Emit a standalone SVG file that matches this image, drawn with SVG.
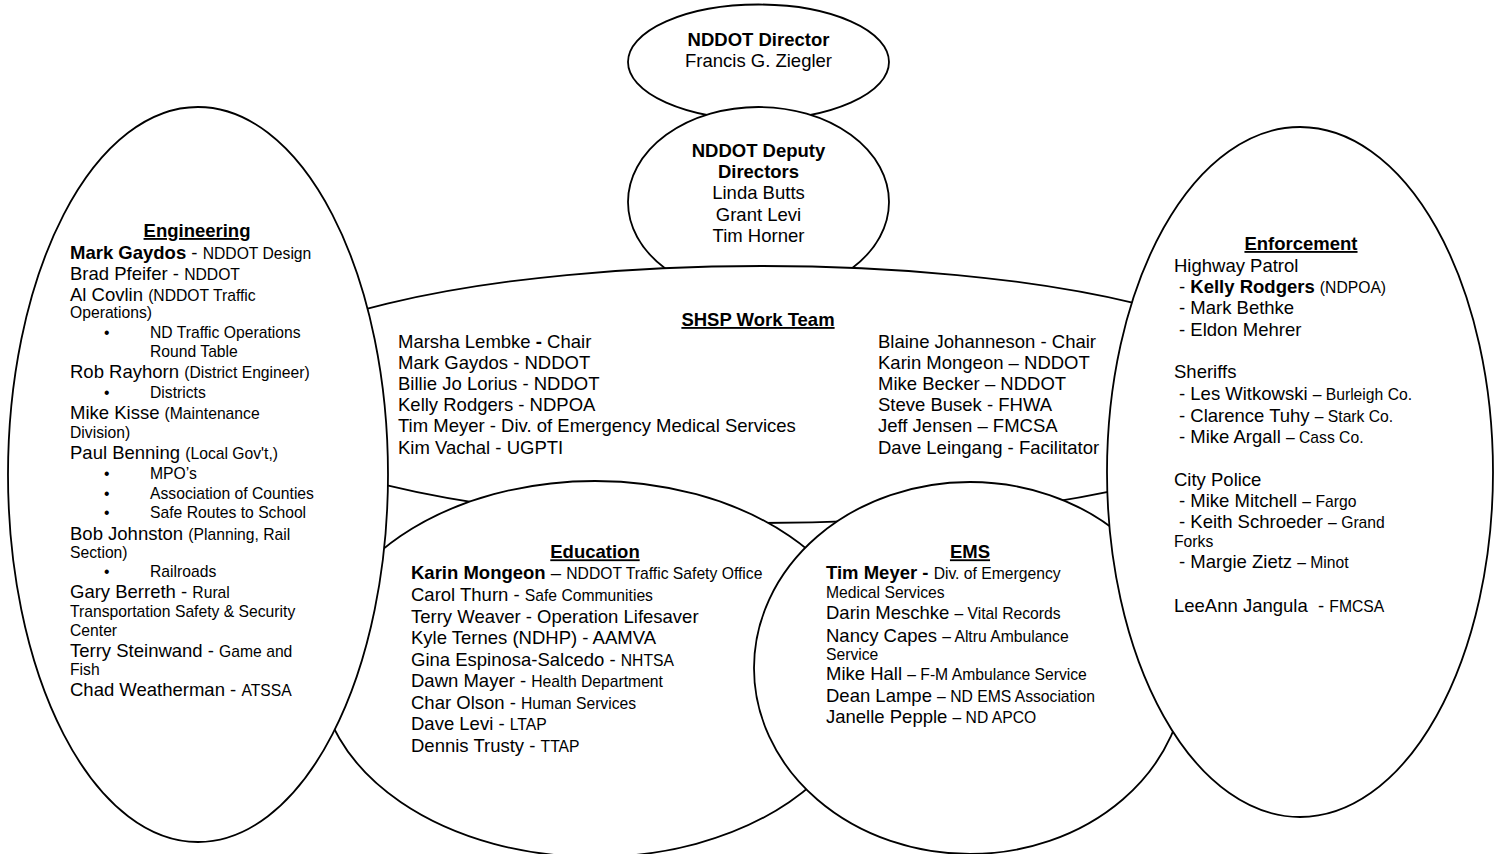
<svg xmlns="http://www.w3.org/2000/svg" width="1499" height="854" viewBox="0 0 1499 854">
<style>
.shape{fill:#fff;stroke:#000;stroke-width:1.8}
text{font-family:"Liberation Sans",Arial,sans-serif;fill:#000;font-size:18.5px}
.s{font-size:15.7px}
.b{font-weight:bold}
.c{text-anchor:middle}
.h{font-weight:bold;text-decoration:underline;text-anchor:middle}
</style>
<rect width="1499" height="854" fill="#fff"/>
<g id="director">
<ellipse class="shape" cx="758.5" cy="62" rx="130.5" ry="57.5"/>
<text class="c b" x="758.5" y="46">NDDOT Director</text>
<text class="c" x="758.5" y="67">Francis G. Ziegler</text>
</g>
<g id="deputy-directors">
<ellipse class="shape" cx="758.5" cy="202" rx="130.5" ry="95"/>
<text class="c b" x="758.5" y="157">NDDOT Deputy</text>
<text class="c b" x="758.5" y="178">Directors</text>
<text class="c" x="758.5" y="199">Linda Butts</text>
<text class="c" x="758.5" y="221">Grant Levi</text>
<text class="c" x="758.5" y="242">Tim Horner</text>
</g>
<g id="shsp-work-team">
<ellipse class="shape" cx="762" cy="394.5" rx="530" ry="128.5"/>
<text class="h" x="758" y="326">SHSP Work Team</text>
<text x="398" y="347.5">Marsha Lembke <tspan class="b">-</tspan> Chair</text>
<text x="398" y="368.7">Mark Gaydos - NDDOT</text>
<text x="398" y="389.9">Billie Jo Lorius - NDDOT</text>
<text x="398" y="411.1">Kelly Rodgers - NDPOA</text>
<text x="398" y="432.3">Tim Meyer - Div. of Emergency Medical Services</text>
<text x="398" y="453.5">Kim Vachal - UGPTI</text>
<text x="878" y="347.5">Blaine Johanneson - Chair</text>
<text x="878" y="368.7">Karin Mongeon – NDDOT</text>
<text x="878" y="389.9">Mike Becker – NDDOT</text>
<text x="878" y="411.1">Steve Busek - FHWA</text>
<text x="878" y="432.3">Jeff Jensen – FMCSA</text>
<text x="878" y="453.5">Dave Leingang - Facilitator</text>
</g>
<g id="education">
<ellipse class="shape" cx="595" cy="669" rx="275" ry="188"/>
<text class="h" x="595" y="558.3">Education</text>
<text x="411" y="579"><tspan class="b">Karin Mongeon</tspan> – <tspan class="s">NDDOT Traffic Safety Office</tspan></text>
<text x="411" y="601">Carol Thurn - <tspan class="s">Safe Communities</tspan></text>
<text x="411" y="622.5">Terry Weaver - Operation Lifesaver</text>
<text x="411" y="644">Kyle Ternes (NDHP) - AAMVA</text>
<text x="411" y="665.5">Gina Espinosa-Salcedo - <tspan class="s">NHTSA</tspan></text>
<text x="411" y="687">Dawn Mayer - <tspan class="s">Health Department</tspan></text>
<text x="411" y="708.5">Char Olson - <tspan class="s">Human Services</tspan></text>
<text x="411" y="730">Dave Levi - <tspan class="s">LTAP</tspan></text>
<text x="411" y="751.5">Dennis Trusty - <tspan class="s">TTAP</tspan></text>
</g>
<g id="ems">
<ellipse class="shape" cx="970" cy="668" rx="216" ry="186"/>
<text class="h" x="970" y="558.3">EMS</text>
<text x="826" y="579"><tspan class="b">Tim Meyer -</tspan> <tspan class="s">Div. of Emergency</tspan></text>
<text class="s" x="826" y="598.3">Medical Services</text>
<text x="826" y="619.3">Darin Meschke <tspan class="s">– Vital Records</tspan></text>
<text x="826" y="641.7">Nancy Capes <tspan class="s">– Altru Ambulance</tspan></text>
<text class="s" x="826" y="660">Service</text>
<text x="826" y="680">Mike Hall <tspan class="s">– F-M Ambulance Service</tspan></text>
<text x="826" y="701.7">Dean Lampe <tspan class="s">– ND EMS Association</tspan></text>
<text x="826" y="722.7">Janelle Pepple <tspan class="s">– ND APCO</tspan></text>
</g>
<g id="engineering">
<ellipse class="shape" cx="198" cy="474.5" rx="190" ry="367.5"/>
<text class="h" x="197" y="237">Engineering</text>
<text x="70" y="259"><tspan class="b">Mark Gaydos</tspan> - <tspan class="s">NDDOT Design</tspan></text>
<text x="70" y="280">Brad Pfeifer - <tspan class="s">NDDOT</tspan></text>
<text x="70" y="300.7">Al Covlin <tspan class="s">(NDDOT Traffic</tspan></text>
<text class="s" x="70" y="318.3">Operations)</text>
<text class="s" x="104" y="338.3">•</text>
<text class="s" x="150" y="338.3">ND Traffic Operations</text>
<text class="s" x="150" y="356.7">Round Table</text>
<text x="70" y="378.3">Rob Rayhorn <tspan class="s">(District Engineer)</tspan></text>
<text class="s" x="104" y="398.3">•</text>
<text class="s" x="150" y="398.3">Districts</text>
<text x="70" y="419.3">Mike Kisse <tspan class="s">(Maintenance</tspan></text>
<text class="s" x="70" y="438.3">Division)</text>
<text x="70" y="459.3">Paul Benning <tspan class="s">(Local Gov't,)</tspan></text>
<text class="s" x="104" y="479.3">•</text>
<text class="s" x="150" y="479.3">MPO’s</text>
<text class="s" x="104" y="499.3">•</text>
<text class="s" x="150" y="499.3">Association of Counties</text>
<text class="s" x="104" y="518.3">•</text>
<text class="s" x="150" y="518.3">Safe Routes to School</text>
<text x="70" y="540">Bob Johnston <tspan class="s">(Planning, Rail</tspan></text>
<text class="s" x="70" y="558.3">Section)</text>
<text class="s" x="104" y="577.3">•</text>
<text class="s" x="150" y="577.3">Railroads</text>
<text x="70" y="598.3">Gary Berreth - <tspan class="s">Rural</tspan></text>
<text class="s" x="70" y="617.3">Transportation Safety &amp; Security</text>
<text class="s" x="70" y="636">Center</text>
<text x="70" y="656.7">Terry Steinwand - <tspan class="s">Game and</tspan></text>
<text class="s" x="70" y="675">Fish</text>
<text x="70" y="696">Chad Weatherman - <tspan class="s">ATSSA</tspan></text>
</g>
<g id="enforcement">
<ellipse class="shape" cx="1300" cy="472" rx="193" ry="345"/>
<text class="h" x="1301" y="250">Enforcement</text>
<text x="1174" y="271.7">Highway Patrol</text>
<text x="1179" y="292.7">- <tspan class="b">Kelly Rodgers</tspan> <tspan class="s">(NDPOA)</tspan></text>
<text x="1179" y="314">- Mark Bethke</text>
<text x="1179" y="336">- Eldon Mehrer</text>
<text x="1174" y="378.3">Sheriffs</text>
<text x="1179" y="400">- Les Witkowski <tspan class="s">– Burleigh Co.</tspan></text>
<text x="1179" y="421.7">- Clarence Tuhy <tspan class="s">– Stark Co.</tspan></text>
<text x="1179" y="443.3">- Mike Argall <tspan class="s">– Cass Co.</tspan></text>
<text x="1174" y="486">City Police</text>
<text x="1179" y="507.3">- Mike Mitchell <tspan class="s">– Fargo</tspan></text>
<text x="1179" y="528.3">- Keith Schroeder <tspan class="s">– Grand</tspan></text>
<text class="s" x="1174" y="547.3">Forks</text>
<text x="1179" y="568.3">- Margie Zietz <tspan class="s">– Minot</tspan></text>
<text x="1174" y="611.7" xml:space="preserve">LeeAnn Jangula  - <tspan class="s">FMCSA</tspan></text>
</g>
<g id="connectors"/>
</svg>
